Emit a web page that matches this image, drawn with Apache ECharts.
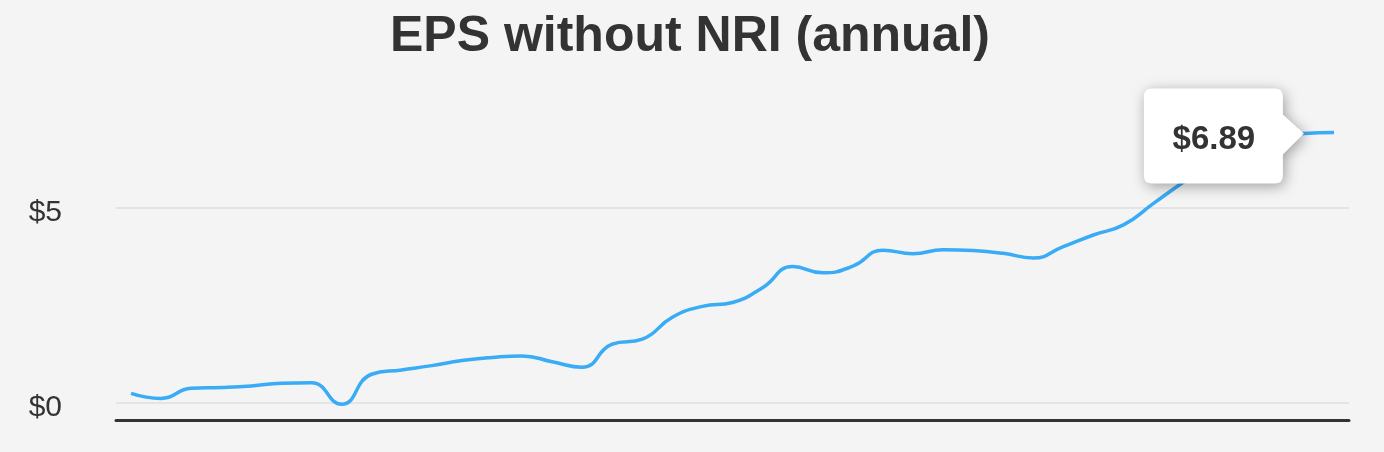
<!DOCTYPE html>
<html>
<head>
<meta charset="utf-8">
<script src="https://cdn.jsdelivr.net/npm/echarts@6/dist/echarts.min.js"></script>
<style>
html,body{margin:0;padding:0;background:#f4f4f4;}
#chart{width:1384px;height:452px;}
</style>
</head>
<body>
<div id="chart"></div>
<script>
const titleText = 'EPS without NRI (annual)';
const categories = ['1985','1986','1987','1988','1989','1990','1991','1992','1993','1994','1995','1996','1997','1998','1999','2000','2001','2002','2003','2004','2005','2006','2007','2008','2009','2010','2011','2012','2013','2014','2015','2016','2017','2018','2019','2020','2021','2022','2023','2024','2025'];
const epsValues = [0.23,0.10,0.36,0.38,0.42,0.49,0.50,-0.05,0.72,0.83,0.94,1.07,1.15,1.19,1.04,0.90,1.49,1.62,2.18,2.46,2.56,2.94,3.48,3.32,3.49,3.90,3.81,3.91,3.89,3.82,3.70,3.99,4.29,4.55,5.10,5.65,6.15,6.55,6.80,6.89,6.92];
const yTickValues = [0, 5];
const highlightIndex = 39;

const chart = echarts.init(document.getElementById('chart'), null, {renderer: 'canvas'});
chart.setOption({
  backgroundColor: '#f4f4f4',
  animation: false,
  title: {
    text: titleText,
    left: 385,
    top: 7,
    textStyle: {fontFamily: 'Liberation Sans', fontSize: 50, fontWeight: 'bold', color: '#333'}
  },
  grid: {left: 116, right: 35, top: 121.5, bottom: 32.15},
  xAxis: {
    type: 'category',
    data: categories,
    boundaryGap: true,
    axisLine: {show: true, onZero: false, lineStyle: {color: '#333', width: 3}},
    axisTick: {show: false},
    axisLabel: {show: false},
    splitLine: {show: false}
  },
  yAxis: {
    type: 'value',
    min: -0.45,
    max: 7.2,
    axisLine: {show: false},
    axisTick: {show: false, customValues: yTickValues},
    axisLabel: {
      customValues: yTickValues,
      formatter: v => '$' + v,
      margin: 54,
      fontFamily: 'Liberation Sans',
      fontSize: 30,
      color: '#333',
      verticalAlign: 'top',
      lineHeight: 10
    },
    splitLine: {show: true, lineStyle: {color: '#e4e4e4', width: 2}}
  },
  series: [{
    type: 'line',
    data: epsValues,
    smooth: true,
    symbol: 'none',
    clip: false,
    lineStyle: {color: '#3aabf5', width: 3.5},
    silent: true,
    markPoint: {
      silent: true,
      symbol: 'path://M8,0H131Q139,0,139,8V26L160,45L139,66V87Q139,95,131,95H8Q0,95,0,87V8Q0,0,8,0Z',
      symbolSize: [160, 95],
      symbolKeepAspect: false,
      symbolOffset: [-80, 2.5],
      itemStyle: {color: '#ffffff', shadowBlur: 14, shadowColor: 'rgba(0,0,0,0.35)', shadowOffsetX: 2, shadowOffsetY: 3},
      label: {
        show: true,
        position: 'inside',
        offset: [-10, 4],
        formatter: p => '$' + p.value.toFixed(2),
        fontFamily: 'Liberation Sans',
        fontSize: 33,
        fontWeight: 'bold',
        color: '#333'
      },
      data: [{coord: [highlightIndex, epsValues[highlightIndex]], value: epsValues[highlightIndex]}]
    }
  }]
});
</script>
</body>
</html>
